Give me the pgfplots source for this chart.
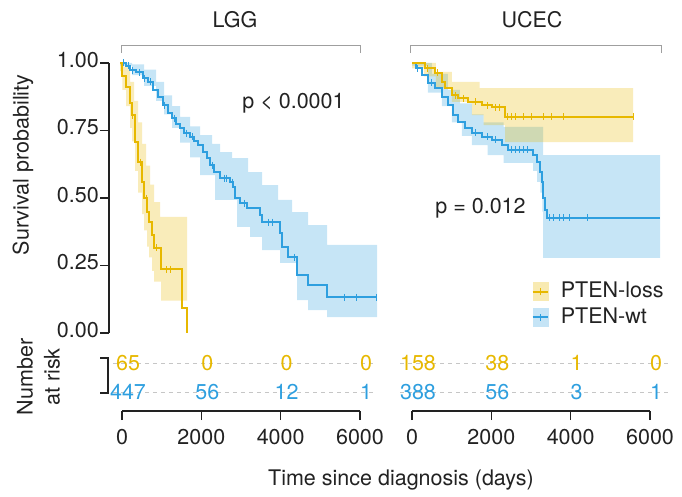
\documentclass[border=0pt]{standalone}
\usepackage{pgfplots}
\pgfplotsset{compat=1.18}
\usepgfplotslibrary{fillbetween}
\usepackage{fontspec}
\setmainfont{TeX Gyre Heros}
\definecolor{cY}{HTML}{E7B800}
\definecolor{cB}{HTML}{2E9FDF}
\definecolor{txt}{HTML}{222222}
\definecolor{axc}{HTML}{222222}

\pgfplotsset{
  kmbase/.style={scale only axis, clip=false, ymin=0, ymax=1,
    axis line style={line width=1.1pt, color=axc},
    tick style={line width=1.1pt, color=axc},
    tick align=outside, major tick length=9pt,
    ticklabel style={font=\fontsize{21.5}{25}\selectfont, color=txt},
  },
  curve/.style={const plot, line width=2pt},
  band/.style={const plot, draw=none, forget plot},
  cens/.style={only marks, mark=|, mark size=3.5pt, mark options={line width=1pt}},
}

\begin{document}
\fontsize{21.5}{25}\selectfont
\begin{tikzpicture}[x=1pt,y=1pt]
\path (0,0) rectangle (682,495);

% ---------------- LGG survival ----------------
\begin{axis}[kmbase, at={(109pt,162pt)}, anchor=south west,
  width=251pt, height=270pt, xmin=-275, xmax=6000,
  axis x line=none, axis y line*=left, y axis line style={-},
  ytick={0,0.25,0.5,0.75,1}, yticklabels={0.00,0.25,0.50,0.75,1.00},
  yticklabel style={inner sep=1pt, yshift=3pt}]
% PTEN-wt band
\addplot[band, name path=wu] table[row sep=\\]{
0 1.000\\ 300 0.995\\ 600 0.975\\ 900 0.93\\ 1100 0.88\\ 1300 0.84\\ 1500 0.80\\ 1750 0.765\\ 2000 0.733\\ 2300 0.70\\ 2500 0.67\\ 2800 0.648\\ 3200 0.596\\ 3550 0.548\\ 3950 0.493\\ 4300 0.448\\ 4700 0.40\\ 5175 0.326\\ 6425 0.326\\};
\addplot[band, name path=wl] table[row sep=\\]{
0 0.990\\ 300 0.955\\ 600 0.915\\ 900 0.86\\ 1100 0.81\\ 1300 0.76\\ 1500 0.705\\ 1750 0.65\\ 2000 0.585\\ 2375 0.493\\ 2925 0.393\\ 3250 0.356\\ 3550 0.307\\ 4000 0.260\\ 4425 0.122\\ 4700 0.085\\ 5175 0.059\\ 6425 0.059\\};
\addplot[fill=cB, fill opacity=0.27, draw=none] fill between[of=wu and wl];
% PTEN-loss band
\addplot[band, name path=lu] table[row sep=\\]{
0 1.000\\ 100 0.985\\ 250 0.93\\ 350 0.86\\ 450 0.78\\ 550 0.70\\ 650 0.62\\ 750 0.55\\ 850 0.485\\ 1000 0.430\\ 1675 0.430\\};
\addplot[band, name path=ll] table[row sep=\\]{
0 0.97\\ 60 0.90\\ 150 0.84\\ 250 0.76\\ 300 0.71\\ 375 0.60\\ 450 0.52\\ 550 0.44\\ 600 0.38\\ 675 0.32\\ 725 0.28\\ 800 0.23\\ 850 0.19\\ 1025 0.12\\ 1675 0.12\\};
\addplot[fill=cY, fill opacity=0.27, draw=none] fill between[of=lu and ll];
% curves
\addplot[curve, cB] table[row sep=\\]{
0 1.000\\ 150 0.990\\ 250 0.974\\ 400 0.965\\ 575 0.944\\ 700 0.930\\ 825 0.900\\ 950 0.875\\ 1075 0.844\\ 1200 0.815\\ 1300 0.796\\ 1400 0.775\\ 1500 0.759\\ 1600 0.740\\ 1750 0.726\\ 1850 0.710\\ 1950 0.696\\ 2075 0.670\\ 2175 0.648\\ 2250 0.622\\ 2350 0.596\\ 2500 0.574\\ 2750 0.559\\ 2825 0.541\\ 2875 0.500\\ 3000 0.481\\ 3175 0.463\\ 3500 0.437\\ 3550 0.411\\ 4000 0.370\\ 4050 0.319\\ 4200 0.281\\ 4425 0.215\\ 4700 0.178\\ 5175 0.133\\ 6425 0.133\\};
\addplot[curve, cY] table[row sep=\\]{
0 1.000\\ 60 0.950\\ 150 0.910\\ 250 0.850\\ 300 0.807\\ 375 0.707\\ 450 0.633\\ 550 0.559\\ 600 0.500\\ 675 0.448\\ 725 0.410\\ 800 0.363\\ 850 0.315\\ 1025 0.236\\ 1550 0.093\\ 1675 0.000\\};
\addplot[cens, cB] coordinates {(80,1.0) (200,0.990) (300,0.974) (480,0.965) (600,0.944) (760,0.930) (1100,0.844) (1350,0.796) (1650,0.740) (1800,0.726) (2300,0.622) (2600,0.574) (2650,0.574) (2800,0.559) (3100,0.481) (3700,0.411) (3800,0.411) (4350,0.281) (5600,0.133) (5900,0.133) (6400,0.133)};
\addplot[cens, cY] coordinates {(320,0.807) (500,0.633) (650,0.500) (900,0.315) (1150,0.236) (1250,0.236)};
\end{axis}

% ---------------- UCEC survival ----------------
\begin{axis}[kmbase, at={(412pt,162pt)}, anchor=south west,
  width=239pt, height=270pt, xmin=0, xmax=6000, axis lines=none,
  legend entries={PTEN-loss,PTEN-wt},
  legend cell align=left,
  legend style={draw=none, fill=none, at={(0.5,0.193)}, anchor=north west,
    inner sep=0pt, row sep=5pt, font=\fontsize{21.5}{25}\selectfont,
    nodes={inner sep=1pt, text=txt}}]
\addlegendimage{legend image code/.code={
  \fill[cY!30] (0pt,-9pt) rectangle (15pt,9pt);
  \draw[cY, line width=2pt] (0pt,0pt) -- (15pt,0pt);
  \draw[cY, line width=1pt] (7.5pt,-3.5pt) -- (7.5pt,3.5pt);
  \path (27pt,0pt);}}
\addlegendimage{legend image code/.code={
  \fill[cB!28] (0pt,-9pt) rectangle (15pt,9pt);
  \draw[cB, line width=2pt] (0pt,0pt) -- (15pt,0pt);
  \draw[cB, line width=1pt] (7.5pt,-3.5pt) -- (7.5pt,3.5pt);
  \path (27pt,0pt);}}
% PTEN-wt band
\addplot[band, name path=bu] table[row sep=\\]{
0 1.000\\ 500 0.96\\ 900 0.90\\ 1200 0.85\\ 1500 0.81\\ 1800 0.78\\ 2300 0.763\\ 3290 0.659\\ 6230 0.659\\};
\addplot[band, name path=bl] table[row sep=\\]{
0 0.990\\ 400 0.89\\ 750 0.84\\ 1000 0.78\\ 1250 0.73\\ 1500 0.696\\ 1900 0.659\\ 2300 0.63\\ 3040 0.60\\ 3140 0.56\\ 3220 0.52\\ 3270 0.45\\ 3290 0.278\\ 6230 0.278\\};
\addplot[fill=cB, fill opacity=0.27, draw=none, forget plot] fill between[of=bu and bl];
% PTEN-loss band
\addplot[band, name path=yu] table[row sep=\\]{
0 1.000\\ 300 1.000\\ 600 0.967\\ 1000 0.93\\ 1700 0.907\\ 5550 0.907\\};
\addplot[band, name path=yl] table[row sep=\\]{
0 0.98\\ 300 0.95\\ 600 0.907\\ 1000 0.856\\ 1500 0.807\\ 1800 0.77\\ 2340 0.707\\ 5550 0.707\\};
\addplot[fill=cY, fill opacity=0.27, draw=none, forget plot] fill between[of=yu and yl];
% curves
\addplot[curve, cB, forget plot] table[row sep=\\]{
0 1.000\\ 100 0.980\\ 250 0.956\\ 400 0.926\\ 575 0.907\\ 750 0.874\\ 900 0.844\\ 1030 0.807\\ 1150 0.781\\ 1330 0.759\\ 1500 0.741\\ 1760 0.726\\ 2010 0.715\\ 2260 0.696\\ 2410 0.678\\ 3040 0.659\\ 3140 0.633\\ 3220 0.596\\ 3270 0.559\\ 3290 0.500\\ 3340 0.456\\ 3390 0.426\\ 6230 0.426\\};
\addplot[curve, cY, forget plot] table[row sep=\\]{
0 1.000\\ 325 0.980\\ 575 0.963\\ 750 0.930\\ 830 0.907\\ 1000 0.881\\ 1150 0.870\\ 1400 0.856\\ 1760 0.844\\ 2010 0.837\\ 2340 0.800\\ 5550 0.800\\};
\addplot[cens, cY, forget plot] coordinates {(400,0.980) (650,0.963) (1100,0.881) (1300,0.870) (1600,0.856) (1900,0.844) (2100,0.837) (2200,0.837) (2400,0.800) (2500,0.800) (2600,0.800) (2800,0.800) (3000,0.800) (3300,0.800) (3500,0.800) (3800,0.800) (5550,0.800)};
\addplot[cens, cB, forget plot] coordinates {(150,0.980) (480,0.926) (1600,0.741) (1900,0.726) (2100,0.715) (2500,0.678) (2600,0.678) (2700,0.678) (2800,0.678) (2900,0.678) (3450,0.426) (3550,0.426) (3700,0.426) (3800,0.426) (3950,0.426) (4400,0.426)};
\end{axis}

% ---------------- risk tables ----------------
\begin{axis}[kmbase, at={(122pt,84pt)}, anchor=south west,
  width=238pt, height=60pt, xmin=0, xmax=6000, ymin=0, ymax=60,
  axis x line*=bottom, axis y line=none, x axis line style={-},
  xtick={0,2000,4000,6000}, xticklabels={0,2000,4000,6000},
  xticklabel style={inner sep=0pt, yshift=-9pt}]
\addplot[gray!45, dashed, line width=0.7pt, dash pattern=on 4pt off 4pt] coordinates {(-227,48) (6373,48)};
\addplot[gray!45, dashed, line width=0.7pt, dash pattern=on 4pt off 4pt] coordinates {(-227,19) (6373,19)};
\addplot[draw=none, nodes near coords, point meta=explicit symbolic,
  nodes near coords style={anchor=center, text=cY, xshift=6pt, font=\fontsize{21.5}{25}\selectfont}]
  coordinates {(0,48)[65] (2000,48)[0] (4000,48)[0] (6000,48)[0]};
\addplot[draw=none, nodes near coords, point meta=explicit symbolic,
  nodes near coords style={anchor=center, text=cB, xshift=6pt, font=\fontsize{21.5}{25}\selectfont}]
  coordinates {(0,19)[447] (2000,19)[56] (4000,19)[12] (6000,19)[1]};
\end{axis}

\begin{axis}[kmbase, at={(412pt,84pt)}, anchor=south west,
  width=238pt, height=60pt, xmin=0, xmax=6000, ymin=0, ymax=60,
  axis x line*=bottom, axis y line=none, x axis line style={-},
  xtick={0,2000,4000,6000}, xticklabels={0,2000,4000,6000},
  xticklabel style={inner sep=0pt, yshift=-9pt}]
\addplot[gray!45, dashed, line width=0.7pt, dash pattern=on 4pt off 4pt] coordinates {(-302,48) (6450,48)};
\addplot[gray!45, dashed, line width=0.7pt, dash pattern=on 4pt off 4pt] coordinates {(-302,19) (6450,19)};
\addplot[draw=none, nodes near coords, point meta=explicit symbolic,
  nodes near coords style={anchor=center, text=cY, xshift=6pt, font=\fontsize{21.5}{25}\selectfont}]
  coordinates {(0,48)[158] (2000,48)[38] (4000,48)[1] (6000,48)[0]};
\addplot[draw=none, nodes near coords, point meta=explicit symbolic,
  nodes near coords style={anchor=center, text=cB, xshift=6pt, font=\fontsize{21.5}{25}\selectfont}]
  coordinates {(0,19)[388] (2000,19)[56] (4000,19)[3] (6000,19)[1]};
\end{axis}

% ---------------- decorations and text ----------------
\draw[gray!75, line width=1pt] (121,442) -- (121,449) -- (360,449) -- (360,442);
\draw[gray!75, line width=1pt] (410,442) -- (410,449) -- (661,449) -- (661,442);
\draw[axc, line width=1.1pt] (100,102) -- (108,102) -- (108,137) -- (100,137);

\node[anchor=base, text=txt] at (235,467) {LGG};
\node[anchor=base, text=txt] at (532,467) {UCEC};
\node[anchor=base west, text=txt] at (235,386) {p < 0.0001};
\node[anchor=base west, text=txt] at (428,282) {p = 0.012};
\node[rotate=90, text=txt] at (23,330) {Survival probability};
\node[rotate=90, text=txt] at (25,118) {Number};
\node[rotate=90, text=txt] at (52,118) {at risk};
\node[anchor=base, text=txt] at (401,10) {Time since diagnosis (days)};
\end{tikzpicture}
\end{document}
